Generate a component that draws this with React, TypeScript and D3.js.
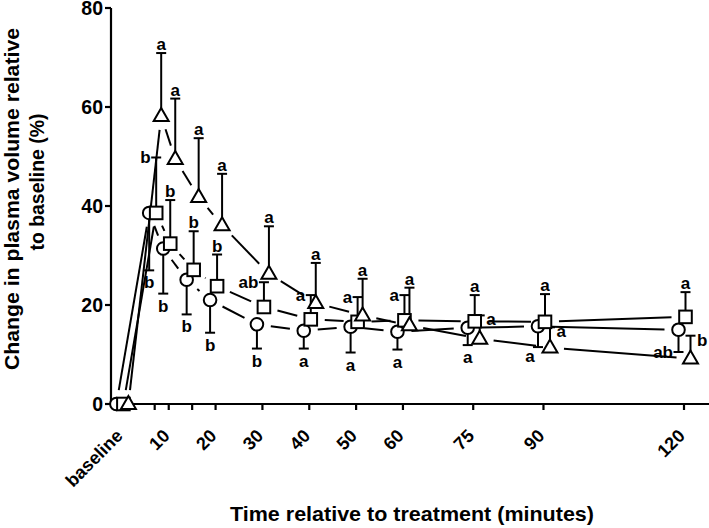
import React from "react";
import * as d3 from "d3";

// ---- data ----
const TIMES = [0, 7, 10, 15, 20, 30, 40, 50, 60, 75, 90, 120];
const X_TICKS = [7, 10, 15, 20, 30, 40, 50, 60, 75, 90, 120];
const X_LABEL_TIMES = [0, 10, 20, 30, 40, 50, 60, 75, 90, 120];
const X_LABELS = ["baseline", "10", "20", "30", "40", "50", "60", "75", "90", "120"];
const Y_TICKS = [0, 20, 40, 60, 80];

const CIRCLE_MEAN = [0, 38.6, 31.4, 25.1, 21.0, 16.1, 14.8, 15.6, 14.6, 15.4, 15.7, 15.0];
const CIRCLE_ERR = [null, 27.0, 22.3, 18.1, 14.4, 11.2, 11.2, 10.4, 11.0, 11.9, 11.5, 10.5];
const CIRCLE_LETTERS = ["", "b", "b", "b", "b", "b", "a", "a", "a", "a", "a", "ab"];
const CIRCLE_LETTER_POS = ["", "below", "below", "below", "below", "below", "below", "below", "below", "below", "belowleft", "left"];

const SQUARE_MEAN = [0, 38.6, 32.4, 27.1, 23.8, 19.6, 17.1, 16.6, 16.9, 16.7, 16.6, 17.6];
const SQUARE_ERR = [null, 49.8, 41.2, 34.9, 30.2, 24.6, 22.0, 21.6, 22.0, 22.0, 22.2, 22.6];
const SQUARE_LETTERS = ["", "b", "b", "b", "b", "ab", "a", "a", "a", "a", "a", "a"];
const SQUARE_LETTER_POS = ["", "left", "above", "above", "above", "left", "left", "left", "left", "above", "above", "above"];

const TRIANGLE_MEAN = [0, 58.2, 49.5, 41.8, 36.1, 26.3, 20.4, 17.9, 15.9, 13.2, 11.4, 9.2];
const TRIANGLE_ERR = [null, 70.9, 61.7, 53.7, 46.5, 35.9, 28.5, 25.3, 23.5, 17.9, 15.5, 13.8];
const TRIANGLE_LETTERS = ["", "a", "a", "a", "a", "a", "a", "a", "a", "a", "a", "b"];
const TRIANGLE_LETTER_POS = ["", "above", "above", "above", "above", "above", "above", "above", "above", "right", "right", "right"];

const Y_TITLE_1 = "Change in plasma volume relative";
const Y_TITLE_2 = "to baseline (%)";
const X_TITLE = "Time relative to treatment (minutes)";

const FONT = "'Liberation Sans', Arial, Helvetica, sans-serif";

type Series = {
  shape: "circle" | "square" | "triangle";
  mean: number[];
  err: (number | null)[];
  letters: string[];
  pos: string[];
  dx: number;
};

const SERIES: Series[] = [
  { shape: "circle", mean: CIRCLE_MEAN, err: CIRCLE_ERR, letters: CIRCLE_LETTERS, pos: CIRCLE_LETTER_POS, dx: -5.5 },
  { shape: "square", mean: SQUARE_MEAN, err: SQUARE_ERR, letters: SQUARE_LETTERS, pos: SQUARE_LETTER_POS, dx: 1.5 },
  { shape: "triangle", mean: TRIANGLE_MEAN, err: TRIANGLE_ERR, letters: TRIANGLE_LETTERS, pos: TRIANGLE_LETTER_POS, dx: 6.5 },
];

const W = 709;
const H = 528;
const GAP = 14;
const CAP = 5;

export default function App() {
  const x = d3.scaleLinear().domain([0, 120]).range([121.9, 684]);
  const y = d3.scaleLinear().domain([0, 80]).range([404, 8]);
  const axisX = 111;

  const marker = (shape: string, cx: number, cy: number, key: string) => {
    const common = { fill: "#fff", stroke: "#000", strokeWidth: 2 };
    if (shape === "circle") return <circle key={key} cx={cx} cy={cy} r={6.3} {...common} />;
    if (shape === "square") return <rect key={key} x={cx - 6.3} y={cy - 6.3} width={12.6} height={12.6} {...common} />;
    const tri = d3.line()([[cx, cy - 8], [cx + 7.5, cy + 5], [cx - 7.5, cy + 5]]) + "Z";
    return <path key={key} d={tri} {...common} strokeLinejoin="miter" />;
  };

  const segments: JSX.Element[] = [];
  const errBars: JSX.Element[] = [];
  const markers: JSX.Element[] = [];
  const labels: JSX.Element[] = [];

  SERIES.forEach((s, si) => {
    const pts = TIMES.map((t, i) => [x(t) + s.dx, y(s.mean[i])] as [number, number]);
    for (let i = 0; i < pts.length - 1; i++) {
      const [x1, y1] = pts[i];
      const [x2, y2] = pts[i + 1];
      const len = Math.hypot(x2 - x1, y2 - y1);
      if (len <= 2 * GAP) continue;
      const ux = (x2 - x1) / len;
      const uy = (y2 - y1) / len;
      segments.push(
        <line key={`seg-${si}-${i}`} x1={x1 + ux * GAP} y1={y1 + uy * GAP} x2={x2 - ux * GAP} y2={y2 - uy * GAP}
          stroke="#000" strokeWidth={2} />
      );
    }
    pts.forEach(([px, py], i) => {
      const e = s.err[i];
      if (e !== null && e !== undefined) {
        const ey = y(e);
        errBars.push(
          <g key={`err-${si}-${i}`} stroke="#000" strokeWidth={2}>
            <line x1={px} y1={py} x2={px} y2={ey} />
            <line x1={px - CAP} y1={ey} x2={px + CAP} y2={ey} />
          </g>
        );
        const letter = s.letters[i];
        const p = s.pos[i];
        if (letter) {
          let lx = px, ly = ey, anchor = "middle";
          if (p === "above") { ly = ey - 3; }
          else if (p === "below") { ly = ey + 18; }
          else if (p === "belowleft") { lx = px - 8; ly = ey + 15; }
          else if (p === "left") { lx = px - CAP - 0.5; ly = ey + 6; anchor = "end"; }
          else if (p === "right") { lx = px + CAP + 1.5; ly = ey + 10; anchor = "start"; }
          labels.push(
            <text key={`lab-${si}-${i}`} x={lx} y={ly} textAnchor={anchor} fontFamily={FONT}
              fontWeight="bold" fontSize={17} fill="#000">{letter}</text>
          );
        }
      }
    });
    pts.forEach(([px, py], i) => markers.push(marker(s.shape, px, py, `m-${si}-${i}`)));
  });

  return (
    <svg width={W} height={H} style={{ position: "absolute", left: 0, top: 0, background: "#fff" }}>
      {/* axes */}
      <line x1={axisX} y1={y(80)} x2={axisX} y2={y(0) + 1} stroke="#000" strokeWidth={2.2} />
      <line x1={axisX - 1} y1={y(0)} x2={W} y2={y(0)} stroke="#000" strokeWidth={2.2} />
      {Y_TICKS.map((v) => (
        <g key={`yt-${v}`}>
          <line x1={axisX - 6} y1={y(v)} x2={axisX} y2={y(v)} stroke="#000" strokeWidth={2.2} />
          <text x={axisX - 8} y={y(v) + 7} textAnchor="end" fontFamily={FONT} fontWeight="bold" fontSize={19.5}>{v}</text>
        </g>
      ))}
      {X_TICKS.map((t) => (
        <line key={`xt-${t}`} x1={x(t)} y1={y(0)} x2={x(t)} y2={y(0) + 6} stroke="#000" strokeWidth={2.2} />
      ))}
      {X_LABEL_TIMES.map((t, i) => (
        <text key={`xl-${t}`} transform={`translate(${x(t) + 2},${y(0) + 33}) rotate(-45)`} textAnchor="end"
          fontFamily={FONT} fontWeight="bold" fontSize={18}>{X_LABELS[i]}</text>
      ))}
      <text x={412} y={521} textAnchor="middle" fontFamily={FONT} fontWeight="bold" fontSize={21}
        textLength={364} lengthAdjust="spacingAndGlyphs">{X_TITLE}</text>
      <text transform={`translate(19,199) rotate(-90)`} textAnchor="middle" fontFamily={FONT} fontWeight="bold" fontSize={20.5}
        textLength={342} lengthAdjust="spacingAndGlyphs">{Y_TITLE_1}</text>
      <text transform={`translate(44,182) rotate(-90)`} textAnchor="middle" fontFamily={FONT} fontWeight="bold" fontSize={20.5}
        textLength={137} lengthAdjust="spacingAndGlyphs">{Y_TITLE_2}</text>
      {segments}
      {errBars}
      {markers}
      {labels}
    </svg>
  );
}
